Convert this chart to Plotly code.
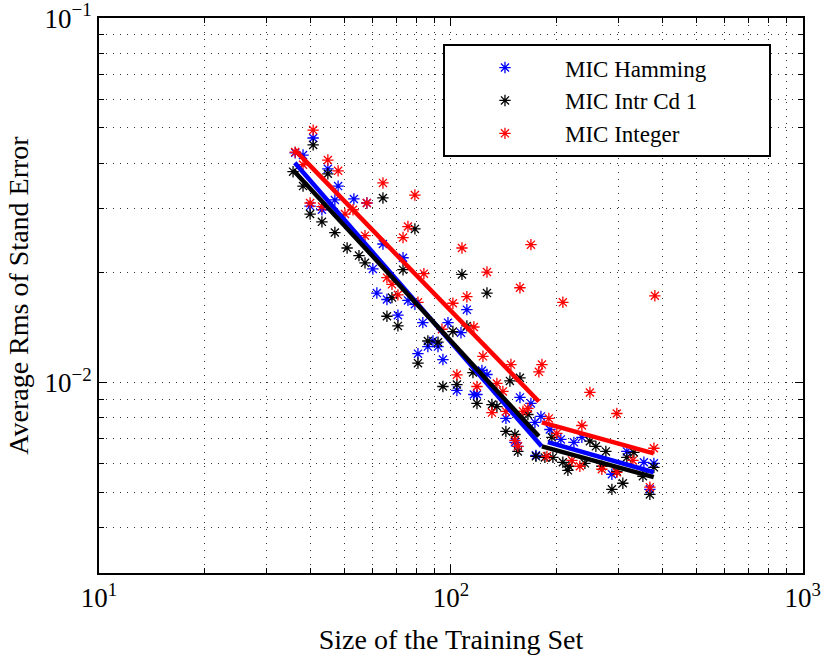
import numpy as np
import plotly.graph_objects as go

# ---- data ----
ham_x = [36.1, 40.6, 38.0, 44.7, 47.8, 39.8, 43.0, 46.8, 53.0, 57.7, 60.0, 64.1, 73.1, 61.6,
         65.8, 75.5, 79.0, 70.7, 83.2, 98.1, 106.8, 86.0, 91.9, 88.9, 80.6, 94.9, 111.0, 104.0,
         122.5, 126.6, 116.2, 118.6, 157.1, 168.8, 143.3, 180.2, 173.3, 191.1, 152.0, 155.0,
         205.3, 223.6, 235.6, 316.2, 353.5, 377.4, 174.4, 286.7, 367.6]
ham_y = [0.0427, 0.0469, 0.0421, 0.0386, 0.0346, 0.0305, 0.0298, 0.0317, 0.0319, 0.0311, 0.0205,
         0.0240, 0.0220, 0.0176, 0.0169, 0.0168, 0.0164, 0.0153, 0.0146, 0.0146, 0.0137, 0.01255,
         0.01255, 0.0130, 0.0120, 0.01156, 0.01585, 0.00951, 0.01079, 0.01052, 0.00927, 0.00927,
         0.0091, 0.00876, 0.00797, 0.00807, 0.00777, 0.00743, 0.00685, 0.00668, 0.00698, 0.00685,
         0.00707, 0.00647, 0.00604, 0.0060, 0.00631, 0.0056, 0.00509]

intr_x = [35.6, 40.6, 38.0, 44.7, 39.8, 43.0, 46.8, 64.1, 79.0, 50.7, 54.8, 57.0, 73.1, 107.5,
          126.6, 68.0, 65.8, 70.7, 101.3, 111.0, 86.0, 91.9, 80.6, 115.5, 147.1, 157.1, 94.9,
          104.0, 118.6, 130.8, 135.1, 165.5, 143.3, 152.0, 193.6, 155.0, 248.3, 258.2, 275.6,
          331.1, 316.2, 377.4, 174.4, 184.9, 194.9, 208.0, 240.3, 216.4, 215.0, 268.5, 296.1,
          286.7, 308.0, 351.2, 367.6]
intr_y = [0.0379, 0.0449, 0.0346, 0.0374, 0.0290, 0.0276, 0.0258, 0.0321, 0.0264, 0.0234, 0.0223,
          0.0213, 0.0204, 0.0198, 0.0176, 0.0171, 0.0152, 0.0143, 0.0138, 0.0143, 0.0130, 0.0129,
          0.0113, 0.01065, 0.0101, 0.0103, 0.00975, 0.00987, 0.00876, 0.0087, 0.00859, 0.00817,
          0.00734, 0.0072, 0.00707, 0.00647, 0.0069, 0.00668, 0.00647, 0.00643, 0.00623, 0.00585,
          0.00627, 0.00623, 0.00623, 0.00604, 0.0060, 0.00589, 0.00574, 0.00589, 0.0057, 0.00509,
          0.00529, 0.00553, 0.00493]

int_x = [40.6, 36.1, 38.0, 44.7, 47.8, 39.8, 43.0, 57.7, 64.1, 79.0, 75.5, 73.1, 107.5, 50.0,
         52.7, 57.0, 83.8, 65.8, 68.0, 70.7, 111.0, 168.8, 126.6, 157.1, 208.0, 101.3, 80.6,
         94.3, 116.2, 123.3, 148.1, 181.4, 177.8, 104.0, 118.6, 135.1, 140.5, 130.8, 143.3,
         160.2, 165.5, 189.8, 248.3, 296.1, 235.6, 200.0, 152.0, 155.0, 187.4, 220.7, 232.5,
         268.5, 296.1, 328.9, 377.4, 367.6, 379.8]
int_y = [0.0493, 0.0429, 0.0396, 0.0408, 0.0381, 0.0311, 0.0304, 0.0311, 0.0353, 0.0327, 0.0268,
         0.0250, 0.0234, 0.0290, 0.0298, 0.0253, 0.0199, 0.0194, 0.0186, 0.0174, 0.0172, 0.0239,
         0.0201, 0.0182, 0.0166, 0.0165, 0.0166, 0.0140, 0.0142, 0.0118, 0.0112, 0.0112, 0.0107,
         0.0105, 0.00975, 0.00994, 0.00945, 0.00827, 0.00833, 0.00833, 0.00849, 0.00797, 0.00939,
         0.00822, 0.00762, 0.00725, 0.00694, 0.00668, 0.00627, 0.00611, 0.00589, 0.00578, 0.00567,
         0.00611, 0.0066, 0.00516, 0.0173]

# fitted piecewise lines (two segments each, None separates segments)
fit_ham_x = [36.0, 181.0, None, 188.6, 377.0]
fit_ham_y = [0.0401, 0.00668, None, 0.00686, 0.00567]
fit_intr_x = [35.6, 177.8, None, 181.4, 377.0]
fit_intr_y = [0.0383, 0.00712, None, 0.00668, 0.0055]
fit_int_x = [36.0, 177.8, None, 181.4, 377.0]
fit_int_y = [0.0435, 0.00887, None, 0.00777, 0.00639]

series_names = ["MIC Hamming", "MIC Intr Cd 1", "MIC Integer"]
x_tickvals = [10, 100, 1000]
x_ticktext = ["10<sup>1</sup>", "10<sup>2</sup>", "10<sup>3</sup>"]
y_tickvals = [0.01, 0.1]
y_ticktext = ["10<sup>−2</sup>", "10<sup>−1</sup>"]
x_minor = [m * d for d in (10, 100) for m in range(2, 10)]
y_minor = [m * d for d in (0.001, 0.01) for m in range(2, 10) if m * d > 0.0029]

FONT = "Liberation Serif, Times New Roman, serif"
PAD = "\u00a0" * 10
fig = go.Figure()

for xs, ys, col, name in [(ham_x, ham_y, "#0000ff", series_names[0]),
                          (intr_x, intr_y, "#000000", series_names[1]),
                          (int_x, int_y, "#ff0000", series_names[2])]:
    fig.add_trace(go.Scatter(x=xs, y=ys, mode="markers", name=name + PAD,
                             marker=dict(symbol="asterisk-open", size=9.5, color=col,
                                         line=dict(color=col, width=1.3))))

for xs, ys, col in [(fit_ham_x, fit_ham_y, "#0000ff"),
                    (fit_intr_x, fit_intr_y, "#000000"),
                    (fit_int_x, fit_int_y, "#ff0000")]:
    fig.add_trace(go.Scatter(x=xs, y=ys, mode="lines", showlegend=False,
                             line=dict(color=col, width=4.5)))

GRIDCOL = "rgba(0,0,0,0.8)"
DASH = "1px,6px"


def axis_style(minor_vals):
    return dict(type="log", showline=True, linecolor="black", linewidth=2,
                mirror="allticks", ticks="inside", ticklen=8, tickcolor="black",
                zeroline=False, showgrid=True, gridcolor=GRIDCOL, gridwidth=1, griddash=DASH,
                minor=dict(tickvals=minor_vals, ticks="inside", ticklen=5, tickcolor="black",
                           showgrid=True, gridcolor=GRIDCOL, griddash=DASH, gridwidth=1),
                ticklabeloverflow="allow", automargin=False,
                tickfont=dict(family=FONT, size=27, color="black"))


fig.update_xaxes(range=[1, 3.0005], tickvals=x_tickvals, ticktext=x_ticktext,
                 title=dict(text="Size of the Training Set",
                            font=dict(family=FONT, size=28, color="black"), standoff=17),
                 **axis_style(x_minor))
fig.update_yaxes(range=[np.log10(0.003), -0.9995], tickvals=y_tickvals, ticktext=y_ticktext,
                 title=dict(text="Average Rms of Stand Error",
                            font=dict(family=FONT, size=28, color="black"), standoff=8),
                 **axis_style(y_minor))

fig.update_layout(
    width=824, height=656,
    margin=dict(l=99, r=21, t=18, b=83),
    plot_bgcolor="white", paper_bgcolor="white",
    font=dict(family=FONT, size=23, color="black"),
    legend=dict(x=0.4886, y=0.953, xanchor="left", yanchor="top",
                bordercolor="black", borderwidth=2, bgcolor="white",
                font=dict(family=FONT, size=23, color="black"),
                itemwidth=110, tracegroupgap=0),
    showlegend=True,
)

fig.write_html("out.html")
